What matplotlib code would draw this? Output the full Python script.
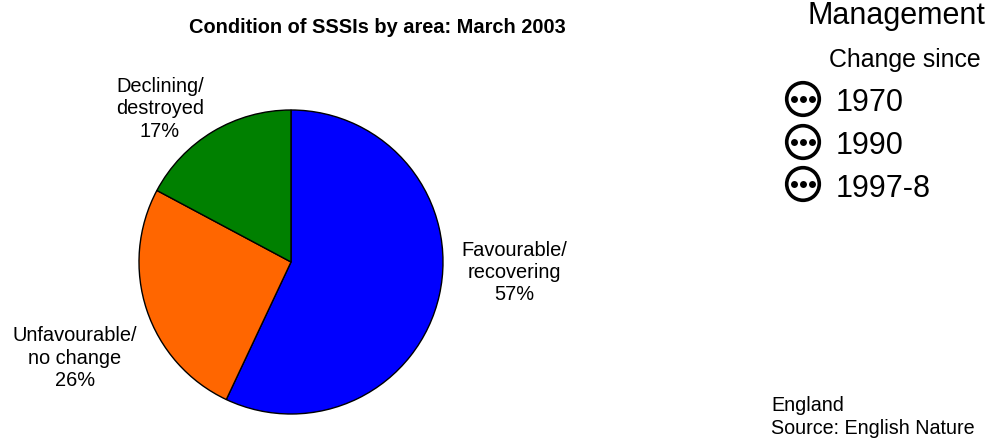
import matplotlib
matplotlib.use("Agg")
import matplotlib.pyplot as plt
from matplotlib.patches import Circle

# pie data, clockwise from 12 o'clock
labels = ["Favourable/\nrecovering\n57%", "Unfavourable/\nno change\n26%", "Declining/\ndestroyed\n17%"]
values = [57, 25.8, 17.2]
colors = ["#0000ff", "#ff6600", "#008000"]
years = ["1970", "1990", "1997-8"]

plt.rcParams["font.family"] = ["Liberation Sans", "DejaVu Sans"]

W, H = 988, 438
fig = plt.figure(figsize=(W / 100, H / 100), dpi=100)

# axes in pixel coords over the whole figure, y going down
ax = fig.add_axes([0, 0, 1, 1])

# y axis is inverted so angles run clockwise on screen
ax.pie(values, colors=colors, startangle=-90, counterclock=True, radius=152, center=(291, 262),
       frame=True, wedgeprops={"edgecolor": "black", "linewidth": 1.0})
ax.set_xlim(0, W)
ax.set_ylim(H, 0)
ax.set_aspect("auto")
ax.axis("off")

ax.text(377.5, 33, "Condition of SSSIs by area: March 2003", ha="center", va="baseline", fontsize=14.4, fontweight="bold")

label_pos = [(514.5, 272.5), (75, 358), (160, 109)]
for txt, (x, y) in zip(labels, label_pos):
    ax.text(x, y, txt, ha="center", va="center", fontsize=14.4, linespacing=1.22)

ax.text(807, 24, "Management", ha="left", va="baseline", fontsize=22)
ax.text(829, 67, "Change since", ha="left", va="baseline", fontsize=17.9)

# face markers with three dots
for yr, y, base in zip(years, [99, 142, 184], [111, 154, 197]):
    ax.add_patch(Circle((803, y), 16.3, facecolor="white", edgecolor="black", linewidth=2.6))
    ax.plot([794, 803, 812], [y, y, y], "o", color="black", ms=5, mew=0)
    ax.text(836, base, yr, ha="left", va="baseline", fontsize=22)

ax.text(771, 411, "England", ha="left", va="baseline", fontsize=14.25)
ax.text(771, 434, "Source: English Nature", ha="left", va="baseline", fontsize=14.25)

fig.savefig("out.png", dpi=100)
